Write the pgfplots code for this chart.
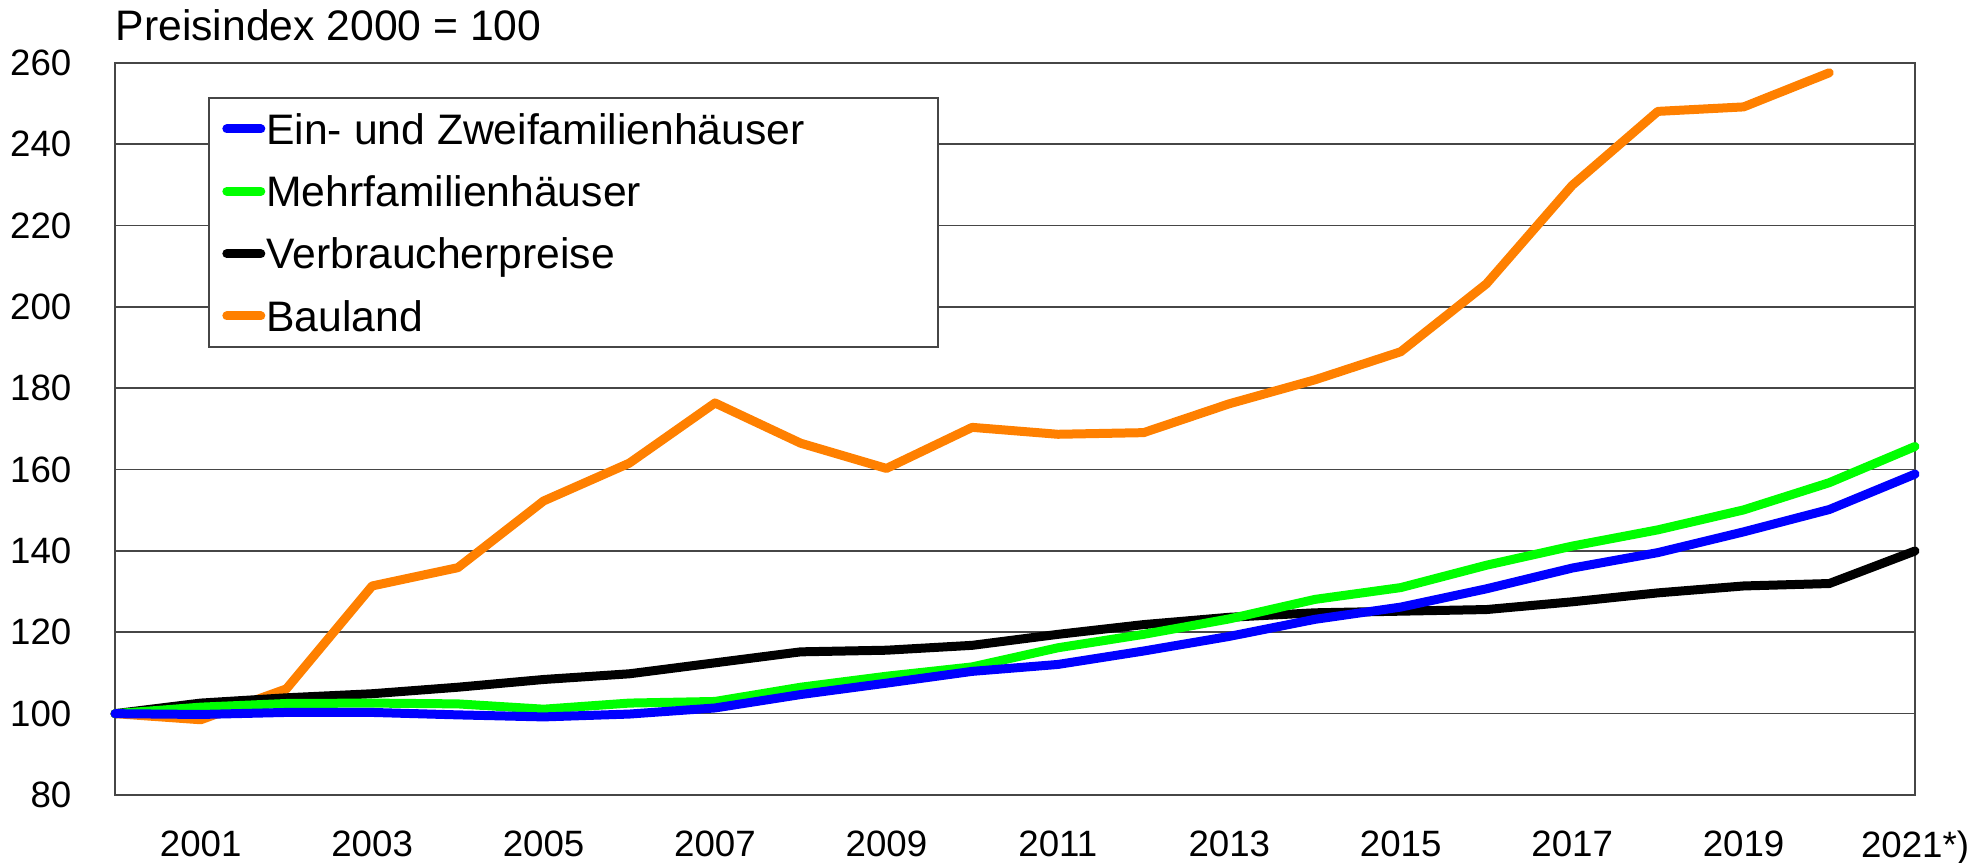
\documentclass[border=0pt]{standalone}
\usepackage{fontspec}
\setmainfont{Liberation Sans}
\usepackage{pgfplots}
\usepackage{pgfplotstable}
\pgfplotsset{compat=1.18}

\definecolor{efhblue}{RGB}{0,0,255}
\definecolor{mfhgreen}{RGB}{0,255,0}
\definecolor{baulandorange}{RGB}{255,128,0}
\definecolor{gridgray}{RGB}{70,70,70}

% Preisindex 2000 = 100
\pgfplotstableread{
year efh   mfh   vpi   bauland
2000 100.0 100.0 100.0 100.0
2001 99.8  101.6 102.6 98.5
2002 100.3 102.5 103.9 106.1
2003 100.3 102.6 104.9 131.4
2004 99.7  102.4 106.5 135.9
2005 99.2  101.1 108.4 152.3
2006 99.9  102.6 109.8 161.6
2007 101.4 103.0 112.5 176.4
2008 104.7 106.5 115.2 166.5
2009 107.5 109.2 115.6 160.3
2010 110.4 111.5 116.8 170.4
2011 112.1 116.2 119.5 168.7
2012 115.4 119.5 121.9 169.1
2013 119.0 123.3 123.7 176.2
2014 123.2 128.1 124.8 182.1
2015 126.2 131.0 125.2 189.0
2016 130.7 136.5 125.6 205.7
2017 135.8 141.2 127.5 229.9
2018 139.6 145.2 129.7 248.1
2019 144.7 150.1 131.4 249.2
2020 150.2 156.8 132.0 257.6
2021 158.9 165.7 140.0 nan
}\preisdata

\begin{document}
\begin{tikzpicture}
\useasboundingbox (-34.5pt,-20.4pt) rectangle (561.9pt,238.5pt);
\begin{axis}[
  scale only axis,
  width=540pt, height=219.6pt,
  at={(0,0)}, anchor=south west,
  xmin=2000, xmax=2021,
  ymin=80, ymax=260,
  xtick={2001,2003,...,2021},
  xticklabels={2001,2003,2005,2007,2009,2011,2013,2015,2017,2019,2021*)},
  ytick={80,100,...,260},
  major tick length=0pt,
  ymajorgrids,
  grid style={gridgray, line width=0.5pt},
  axis line style={gridgray, line width=0.5pt},
  /pgf/number format/assume math mode=true,
  tick label style={font=\fontsize{11}{13}\selectfont, inner sep=0pt},
  yticklabel shift=12.9pt,
  xticklabel shift=10.5pt,
  clip=false,
  unbounded coords=discard,
  every axis plot/.append style={line width=2.7pt, line join=round, line cap=round},
  reverse legend,
  legend cell align=left,
  legend image code/.code={
    \path (0pt,0pt) (12.9pt,0pt);
    \draw[#1] (1.35pt,0pt) -- (11.55pt,0pt);
  },
  legend style={
    at={(0.05167,0.95355)}, anchor=north west,
    draw=gridgray, line width=0.5pt, fill=white,
    inner xsep=2.7pt, inner ysep=0pt,
    row sep=0pt,
    font=\fontsize{12.8}{15}\selectfont,
    nodes={inner sep=0pt, text height=13.95pt, text depth=4.75pt},
    /tikz/every odd column/.append style={column sep=-1.05pt},
  },
]
\addplot[baulandorange] table[x=year, y=bauland] {\preisdata};
\addlegendentry{\makebox[198.7pt][l]{Bauland}}
\addplot[black] table[x=year, y=vpi] {\preisdata};
\addlegendentry{Verbraucherpreise}
\addplot[mfhgreen] table[x=year, y=mfh] {\preisdata};
\addlegendentry{Mehrfamilienhäuser}
\addplot[efhblue] table[x=year, y=efh] {\preisdata};
\addlegendentry{Ein- und Zweifamilienhäuser}

\node[anchor=base west, inner sep=0pt, font=\fontsize{12.8}{15}\selectfont]
  at ([yshift=6.7pt]axis description cs:0,1) {Preisindex 2000 = 100};
\end{axis}
\end{tikzpicture}
\end{document}
